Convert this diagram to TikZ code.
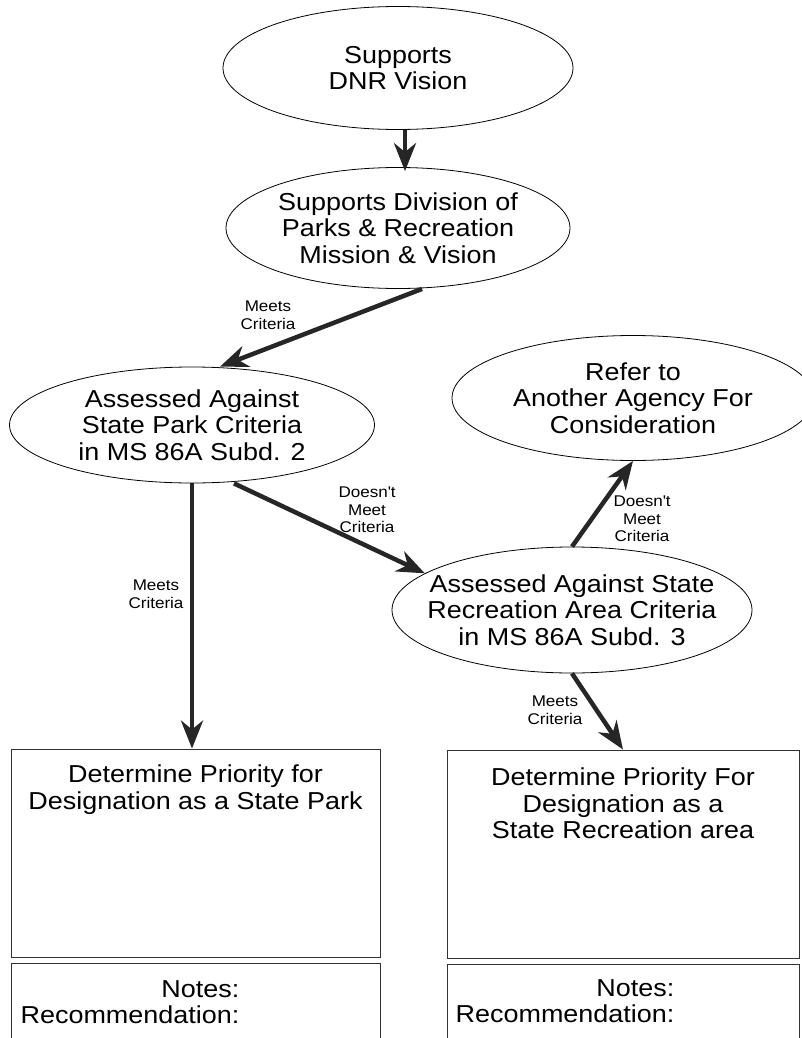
\documentclass[tikz,border=0pt]{standalone}
\usepackage{fontspec}
\setmainfont{Liberation Sans}[FakeStretch=1.1]
\usetikzlibrary{shapes,arrows.meta,calc}
\newcommand{\bigtxt}{\fontsize{24.5}{26.5}\selectfont}
\newcommand{\smalltxt}{\fontsize{15.5}{17.5}\selectfont}
\tikzset{goal/.style={ellipse,draw=black,line width=0.8pt,inner sep=0pt},
say/.style={align=center,font=\bigtxt,inner sep=0pt},
crit/.style={align=center,font=\smalltxt,inner sep=0pt},
pbox/.style={draw=black!80,line width=0.9pt,inner sep=0pt,minimum height=208pt},
nbox/.style={draw=black!80,line width=0.9pt,inner sep=0pt,minimum height=82pt},
flow/.style={-{Stealth[length=28pt,width=22pt,inset=9pt]},line width=4.5pt,draw=black!85}}

\begin{document}
\begin{tikzpicture}[x=1pt,y=-1pt]
\useasboundingbox (0,0) rectangle (801,1038);

\node[goal,minimum width=350pt,minimum height=123pt,label={[say]center:{Supports\\DNR Vision}}] (dnr) at (398,68) {};
\node[goal,minimum width=344pt,minimum height=121pt,label={[say]center:{Supports Division of\\Parks \& Recreation\\Mission \& Vision}}] (div) at (398,228) {};
\node[goal,minimum width=365pt,minimum height=116pt,label={[say]center:{Assessed Against\\State Park Criteria\\in MS 86A Subd. 2}}] (park) at (192,425) {};
\node[goal,minimum width=362pt,minimum height=125pt,label={[say]center:{Refer to\\Another Agency For\\Consideration}}] (refer) at (633,398) {};
\node[goal,minimum width=360pt,minimum height=126pt,label={[say]center:{Assessed Against State\\Recreation Area Criteria\\in MS 86A Subd. 3}}] (rec) at (572,610) {};

\node[pbox,minimum width=369pt,label={[say,anchor=north,yshift=-16pt]north:{Determine Priority for\\Designation as a State Park}}] (parkbox) at (195.5,853) {};
\node[pbox,minimum width=352pt,label={[say,anchor=north,yshift=-18pt]north:{Determine Priority For\\Designation as a\\State Recreation area}}] (recbox) at (623,854) {};
\node[nbox,minimum width=369pt,label={[say,align=right,anchor=north east,xshift=229pt,yshift=-17.5pt]north west:{Notes:\\Recommendation:}}] (parknotes) at (195.5,1004) {};
\node[nbox,minimum width=352pt,label={[say,align=right,anchor=north east,xshift=228pt,yshift=-15.5pt]north west:{Notes:\\Recommendation:}}] (recnotes) at (623,1005) {};

\draw[flow] ([xshift=7pt]dnr.south) -- ([xshift=7pt,yshift=-4pt]div.north);
\draw[flow] ([xshift=24pt]div.south) -- ([xshift=28pt]park.north);
\draw[flow] (park.south) -- (park.south |- parkbox.north);
\draw[flow] ([xshift=42pt]park.south) -- (rec.166);
\draw[flow] (rec.north) -- (refer.south);
\draw[flow] (rec.south) -- (recbox.north);

\node[crit] (meetsdiv) at (268,315) {Meets\\Criteria};
\node[crit] (meetspark) at (156,594) {Meets\\Criteria};
\node[crit] (notpark) at (367,510) {Doesn\textquotesingle t\\Meet\\Criteria};
\node[crit] (notrec) at (642,519) {Doesn\textquotesingle t\\Meet\\Criteria};
\node[crit] (meetsrec) at (555,710) {Meets\\Criteria};
\end{tikzpicture}
\end{document}
